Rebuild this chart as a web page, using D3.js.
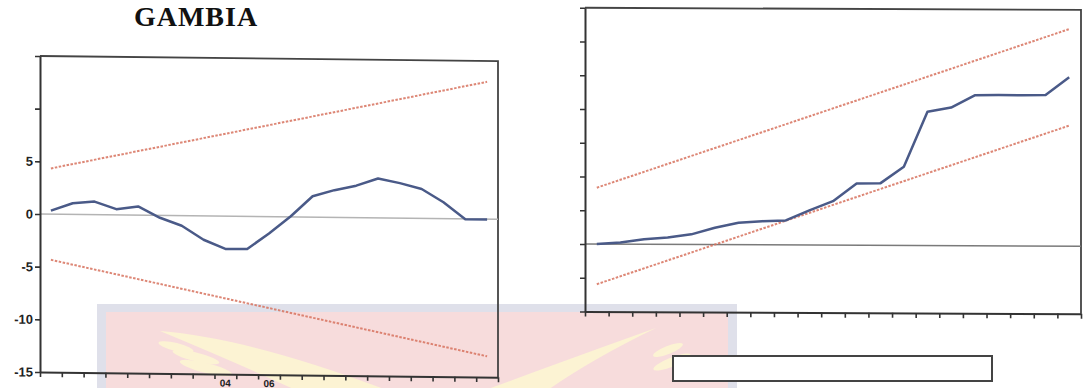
<!DOCTYPE html>
<html><head><meta charset="utf-8">
<script src="https://cdn.jsdelivr.net/npm/d3@7"></script>
<style>body{margin:0;background:#fff;} svg{display:block;}</style>
</head><body>
<svg id="c" width="1087" height="388"></svg>
<script>
// ---- data ----
const years = [1996,1997,1998,1999,2000,2001,2002,2003,2004,2005,2006,2007,2008,2009,2010,2011,2012,2013,2014,2015,2016];
const cusum = [0.33,1.06,1.24,0.54,0.82,-0.23,-0.96,-2.27,-3.12,-3.10,-1.60,0.06,1.98,2.58,3.03,3.74,3.32,2.78,1.55,-0.03,-0.05];
const cusumUpper = [4.34, 13.03];   // 5% bound at first / last year
const cusumLower = [-4.34, -13.03];
const cusumSq = [0,0.01,0.03,0.04,0.06,0.10,0.13,0.14,0.145,0.205,0.26,0.366,0.367,0.466,0.792,0.818,0.891,0.893,0.893,0.895,1.0];
const sqUpper = [0.334, 1.286];
const sqLower = [-0.238, 0.714];
const leftTicks = [-15,-10,-5,0,5,10,15];
const leftTickLabels = ["-15","-10","-5","0","5","",""];
const rightTicks = [-0.4,-0.2,0,0.2,0.4,0.6,0.8,1.0,1.2,1.4];
const xLabelYears = [2004, 2006];
const xLabelText = ["04","06"];
const title = "GAMBIA";

const svg = d3.select("#c");

// ---- scanned-page watermark (background) ----
const wm = svg.append("g");
wm.append("rect").attr("x",97).attr("y",304).attr("width",640).attr("height",100).attr("fill","#dfe0ea");
wm.append("rect").attr("x",106).attr("y",312).attr("width",622).attr("height",90).attr("fill","#f7dcdc");
const wing = "#fcf3d3";
wm.append("path").attr("d","M160,331 Q250,338 392,392 L300,392 Q235,362 160,331 Z").attr("fill",wing);
wm.append("path").attr("d","M656,328 Q590,360 545,392 L480,392 Q580,355 656,328 Z").attr("fill",wing);
[[176,347,18,4,14],[196,357,24,4.5,14],[206,368,27,5,14]].forEach(e=>{
  wm.append("ellipse").attr("cx",e[0]).attr("cy",e[1]).attr("rx",e[2]).attr("ry",e[3])
    .attr("transform",`rotate(${e[4]},${e[0]},${e[1]})`).attr("fill",wing);
});
[[668,350,16,4,-22],[672,362,20,4.5,-22]].forEach(e=>{
  wm.append("ellipse").attr("cx",e[0]).attr("cy",e[1]).attr("rx",e[2]).attr("ry",e[3])
    .attr("transform",`rotate(${e[4]},${e[0]},${e[1]})`).attr("fill",wing);
});

// ---- title ----
svg.append("text").attr("x",196).attr("y",25.5).attr("text-anchor","middle")
  .attr("font-family","'Liberation Serif','Times New Roman',serif").attr("font-weight","bold")
  .attr("font-size",28).attr("letter-spacing",1)
  .attr("fill","#111").text(title);

const boundColor = "#d8735f";
const lineColor = "#4a5a88";
const tickVals = d3.range(0, 22).map(k => 1995.5 + k);

function styleAxis(g, w){
  g.select(".domain").attr("stroke","#333").attr("stroke-width",w);
  g.selectAll(".tick line").attr("stroke","#333").attr("stroke-width",1.6);
}

// ---- left chart: CUSUM ----
{
  const W = 458;
  const g = svg.append("g").attr("transform","translate(40,0) skewY(0.65)");
  const x = d3.scaleLinear().domain([1995.5, 2016.5]).range([0, W]);
  const y = d3.scaleLinear().domain([-15, 15]).range([372, 56]);
  g.append("path").attr("d",`M0,${y(15)}H${W}V${y(-15)}`).attr("fill","none").attr("stroke","#444").attr("stroke-width",1.8);
  g.append("line").attr("x1",0).attr("x2",W).attr("y1",y(0)).attr("y2",y(0)).attr("stroke","#b4b4b4").attr("stroke-width",1.5);
  const ya = g.append("g").call(d3.axisLeft(y).tickValues(leftTicks).tickSize(5).tickSizeOuter(0)
      .tickFormat((d,i)=>leftTickLabels[i]));
  styleAxis(ya, 2);
  ya.selectAll("text").attr("font-family","'Liberation Sans',Arial,sans-serif").attr("font-weight","bold")
    .attr("font-size",13).attr("fill","#222").attr("x",-7);
  const xa = g.append("g").attr("transform",`translate(0,${y(-15)})`)
    .call(d3.axisBottom(x).tickValues(tickVals).tickSize(5).tickSizeOuter(0).tickFormat(""));
  styleAxis(xa, 2);
  g.selectAll(".xl").data(xLabelYears).join("text").attr("class","xl")
    .attr("x",d=>x(d)).attr("y",384.5).attr("text-anchor","middle")
    .attr("font-family","'Liberation Sans',Arial,sans-serif").attr("font-weight","bold")
    .attr("font-size",10).attr("fill","#222").text((d,i)=>xLabelText[i]);
  const ends = [years[0], years[years.length-1]];
  [cusumUpper, cusumLower].forEach(b=>{
    g.append("line").attr("x1",x(ends[0])).attr("y1",y(b[0])).attr("x2",x(ends[1])).attr("y2",y(b[1]))
      .attr("stroke",boundColor).attr("stroke-width",2).attr("stroke-dasharray","2.5,1.5").attr("opacity",0.85);
  });
  g.append("path").datum(years.map((yr,i)=>[yr,cusum[i]]))
    .attr("d", d3.line().x(d=>x(d[0])).y(d=>y(d[1])))
    .attr("fill","none").attr("stroke",lineColor).attr("stroke-width",2.5).attr("stroke-linejoin","round");
}

// ---- right chart: CUSUM of squares ----
{
  const W = 496;
  const g = svg.append("g").attr("transform","translate(585,0) skewY(0.25)");
  const x = d3.scaleLinear().domain([1995.5, 2016.5]).range([0, W]);
  const y = d3.scaleLinear().domain([-0.4, 1.4]).range([311.5, 7.75]);
  g.append("path").attr("d",`M0,${y(1.4)}H${W}V${y(-0.4)}`).attr("fill","none").attr("stroke","#444").attr("stroke-width",1.8);
  g.append("line").attr("x1",0).attr("x2",W).attr("y1",y(0)).attr("y2",y(0)).attr("stroke","#7a7a7a").attr("stroke-width",1.5);
  const ya = g.append("g").call(d3.axisLeft(y).tickValues(rightTicks).tickSize(5).tickSizeOuter(0).tickFormat(""));
  styleAxis(ya, 2);
  const xa = g.append("g").attr("transform",`translate(0,${y(-0.4)})`)
    .call(d3.axisBottom(x).tickValues(tickVals).tickSize(5).tickSizeOuter(0).tickFormat(""));
  styleAxis(xa, 2);
  const ends = [years[0], years[years.length-1]];
  [sqUpper, sqLower].forEach(b=>{
    g.append("line").attr("x1",x(ends[0])).attr("y1",y(b[0])).attr("x2",x(ends[1])).attr("y2",y(b[1]))
      .attr("stroke",boundColor).attr("stroke-width",2).attr("stroke-dasharray","2.5,1.5").attr("opacity",0.85);
  });
  g.append("path").datum(years.map((yr,i)=>[yr,cusumSq[i]]))
    .attr("d", d3.line().x(d=>x(d[0])).y(d=>y(d[1])))
    .attr("fill","none").attr("stroke",lineColor).attr("stroke-width",2.5).attr("stroke-linejoin","round");
}

// ---- empty legend box ----
svg.append("rect").attr("x",673).attr("y",356).attr("width",319).attr("height",25)
  .attr("fill","#fff").attr("stroke","#444").attr("stroke-width",2);
</script>
</body></html>
